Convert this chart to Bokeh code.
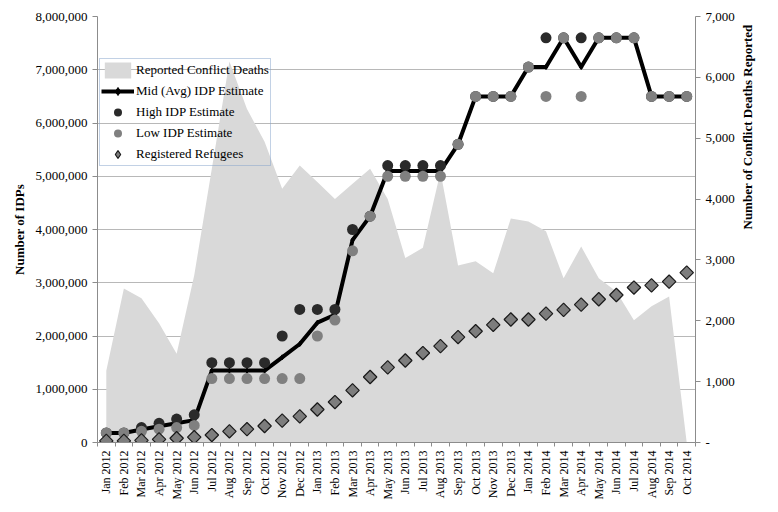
import numpy as np
from bokeh.plotting import figure
from bokeh.models import (Range1d, LinearAxis, FixedTicker, NumeralTickFormatter,
                          Legend, LegendItem, BoxAnnotation, ColumnDataSource, Label)
from bokeh.embed import file_html
from bokeh.resources import INLINE

# ---------------- data ----------------
months = ["Jan 2012", "Feb 2012", "Mar 2012", "Apr 2012", "May 2012", "Jun 2012",
          "Jul 2012", "Aug 2012", "Sep 2012", "Oct 2012", "Nov 2012", "Dec 2012",
          "Jan 2013", "Feb 2013", "Mar 2013", "Apr 2013", "May 2013", "Jun 2013",
          "Jul 2013", "Aug 2013", "Sep 2013", "Oct 2013", "Nov 2013", "Dec 2013",
          "Jan 2014", "Feb 2014", "Mar 2014", "Apr 2014", "May 2014", "Jun 2014",
          "Jul 2014", "Aug 2014", "Sep 2014", "Oct 2014"]

# reported conflict deaths (right axis)
deaths = [1180, 2530, 2370, 1960, 1460, 2750, 4500, 6260, 5480, 4940, 4170, 4550,
          4280, 4000, 4250, 4500, 4000, 3030, 3200, 4450, 2910, 2980, 2780, 3680,
          3630, 3470, 2700, 3220, 2700, 2480, 2010, 2240, 2400, 0]

# IDP estimates, millions (left axis)
idp_high = [0.18, 0.18, 0.28, 0.36, 0.44, 0.52, 1.5, 1.5, 1.5, 1.5, 2.0, 2.5,
            2.5, 2.5, 4.0, 4.25, 5.2, 5.2, 5.2, 5.2, 5.6, 6.5, 6.5, 6.5,
            7.05, 7.6, 7.6, 7.6, 7.6, 7.6, 7.6, 6.5, 6.5, 6.5]
idp_low = [0.18, 0.18, 0.21, 0.25, 0.28, 0.32, 1.2, 1.2, 1.2, 1.2, 1.2, 1.2,
           2.0, 2.3, 3.6, 4.25, 5.0, 5.0, 5.0, 5.0, 5.6, 6.5, 6.5, 6.5,
           7.05, 6.5, 7.6, 6.5, 7.6, 7.6, 7.6, 6.5, 6.5, 6.5]
idp_mid = [0.18, 0.18, 0.245, 0.305, 0.36, 0.42, 1.35, 1.35, 1.35, 1.35, 1.6, 1.85,
           2.25, 2.4, 3.8, 4.25, 5.1, 5.1, 5.1, 5.1, 5.6, 6.5, 6.5, 6.5,
           7.05, 7.05, 7.6, 7.05, 7.6, 7.6, 7.6, 6.5, 6.5, 6.5]
# registered refugees, millions (left axis)
refugees = [0.03, 0.03, 0.04, 0.06, 0.08, 0.10, 0.14, 0.21, 0.25, 0.31, 0.41, 0.49,
            0.62, 0.76, 0.98, 1.23, 1.41, 1.54, 1.68, 1.81, 1.98, 2.09, 2.21, 2.31,
            2.31, 2.42, 2.49, 2.59, 2.69, 2.77, 2.91, 2.95, 3.02, 3.19]

left_ticks = [0, 1e6, 2e6, 3e6, 4e6, 5e6, 6e6, 7e6, 8e6]
right_ticks = [0, 1000, 2000, 3000, 4000, 5000, 6000, 7000]

# ---------------- build ----------------
M = 1_000_000
xs = list(range(len(months)))
src = ColumnDataSource(dict(
    x=xs, deaths=deaths,
    high=[v * M for v in idp_high], low=[v * M for v in idp_low],
    mid=[v * M for v in idp_mid], ref=[v * M for v in refugees]))

FONT = "Liberation Serif"
AXIS_GREY = "#8c8c8c"

FRAME_W, FRAME_H = 598, 426
BL, BT = 97, 16
BR, BB = 762 - BL - FRAME_W, 496 - BT - FRAME_H

p = figure(frame_width=FRAME_W, frame_height=FRAME_H, output_backend="svg",
           toolbar_location=None,
           x_range=Range1d(-0.5, len(months) - 0.5), y_range=Range1d(0, 8 * M),
           min_border_left=BL, min_border_right=BR, min_border_top=BT, min_border_bottom=BB)
p.extra_y_ranges = {"deaths": Range1d(0, 7000)}
p.outline_line_color = None
p.background_fill_color = "white"
p.border_fill_color = "white"

# backdrop behind legend (hides gridlines, the area stays visible)
backdrop = BoxAnnotation(left=99, right=270, top=60, bottom=164,
                         left_units="screen", right_units="screen",
                         top_units="screen", bottom_units="screen",
                         fill_color="white", fill_alpha=1.0, line_color=None,
                         level="underlay")
p.add_layout(backdrop)

area = p.varea(x="x", y1=0, y2="deaths", source=src, y_range_name="deaths",
               fill_color="#d9d9d9")
mid_line = p.line(x="x", y="mid", source=src, line_color="black", line_width=4,
                  line_join="round")
mid_pts = p.scatter(x="x", y="mid", source=src, marker="diamond", size=5,
                    fill_color="black", line_color="black")
high = p.scatter(x="x", y="high", source=src, marker="circle", size=11,
                 fill_color="#2a2a2a", line_color=None)
low = p.scatter(x="x", y="low", source=src, marker="circle", size=11,
                fill_color="#808080", line_color=None)
refs = p.scatter(x="x", y="ref", source=src, marker="square", angle=np.pi / 4, size=9.5,
                 fill_color="#7d7d7d", line_color="#1a1a1a", line_width=1.2)
# legend-only key (rotated squares are not rotated inside legends); no plotted point
refs_key = p.scatter(x=[np.nan], y=[np.nan], marker="diamond", size=11,
                     fill_color="#7d7d7d", line_color="#1a1a1a", line_width=1.2)

# x axis
xa = p.xaxis[0]
xa.ticker = FixedTicker(ticks=xs, minor_ticks=[i + 0.5 for i in range(-1, len(months))])
xa.major_label_overrides = {i: m for i, m in enumerate(months)}
xa.major_label_orientation = np.pi / 2
xa.major_label_text_font = FONT
xa.major_label_text_font_size = "12px"
xa.major_label_text_color = "black"
xa.major_label_standoff = 4
xa.major_tick_out = 0
xa.major_tick_in = 0
xa.minor_tick_out = 4
xa.minor_tick_in = 0
xa.minor_tick_line_color = AXIS_GREY
xa.axis_line_color = AXIS_GREY

# left axis
ya = p.yaxis[0]
ya.ticker = FixedTicker(ticks=left_ticks)
ya.formatter = NumeralTickFormatter(format="0,0")
ya.axis_label = "Number of IDPs"
ya.axis_label_text_font = FONT
ya.axis_label_text_font_style = "bold"
ya.axis_label_text_font_size = "13px"
ya.axis_label_text_color = "black"
ya.axis_label_standoff = 6
ya.major_label_text_font = FONT
ya.major_label_text_font_size = "13px"
ya.major_label_text_color = "black"
ya.major_label_standoff = 5
ya.major_tick_out = 5
ya.major_tick_in = 0
ya.minor_tick_out = 0
ya.minor_tick_in = 0
ya.axis_line_color = AXIS_GREY
ya.major_tick_line_color = AXIS_GREY

# right axis
ra = LinearAxis(y_range_name="deaths", ticker=FixedTicker(ticks=right_ticks),
                formatter=NumeralTickFormatter(format="0,0"))
ra.major_label_overrides = {0: "-"}
ra.major_label_text_font = FONT
ra.major_label_text_font_size = "13px"
ra.major_label_text_color = "black"
ra.major_label_standoff = 5
ra.major_tick_out = 5
ra.major_tick_in = 0
ra.minor_tick_out = 0
ra.minor_tick_in = 0
ra.axis_line_color = AXIS_GREY
ra.major_tick_line_color = AXIS_GREY
RIGHT_TITLE = "Number of Conflict Deaths Reported"
try:
    ra.axis_label_orientation = np.pi / 2
    ra.axis_label = RIGHT_TITLE
    ra.axis_label_text_font = FONT
    ra.axis_label_text_font_style = "bold"
    ra.axis_label_text_font_size = "13px"
    ra.axis_label_text_color = "black"
    ra.axis_label_standoff = 10
except AttributeError:
    ra.axis_label = None
    p.add_layout(Label(x=752, y=BT + FRAME_H / 2, x_units="screen", y_units="screen",
                       text=RIGHT_TITLE, angle=np.pi / 2, text_align="center",
                       text_baseline="middle", text_font=FONT, text_font_style="bold",
                       text_font_size="13px", text_color="black"))
p.add_layout(ra, "right")

p.xgrid.visible = False
p.ygrid.ticker = FixedTicker(ticks=left_ticks)
p.ygrid.grid_line_color = "#b8b8b8"

LEG_H = 106
legend = Legend(items=[
    LegendItem(label="Reported Conflict Deaths", renderers=[area]),
    LegendItem(label="Mid (Avg) IDP Estimate", renderers=[mid_line, mid_pts]),
    LegendItem(label="High IDP Estimate", renderers=[high]),
    LegendItem(label="Low IDP Estimate", renderers=[low]),
    LegendItem(label="Registered Refugees", renderers=[refs_key]),
], location=(2, FRAME_H - (60 - BT) - LEG_H))
legend.label_text_font = FONT
legend.label_text_font_size = "13px"
legend.label_text_color = "black"
legend.border_line_color = "#86a3cc"
legend.border_line_width = 1
legend.background_fill_alpha = 0
legend.glyph_width = 33
legend.glyph_height = 20
legend.label_height = 20
legend.spacing = 1
legend.padding = 1
legend.margin = 0
legend.label_standoff = 2
p.add_layout(legend)

open("out.html", "w").write(file_html(p, INLINE))
